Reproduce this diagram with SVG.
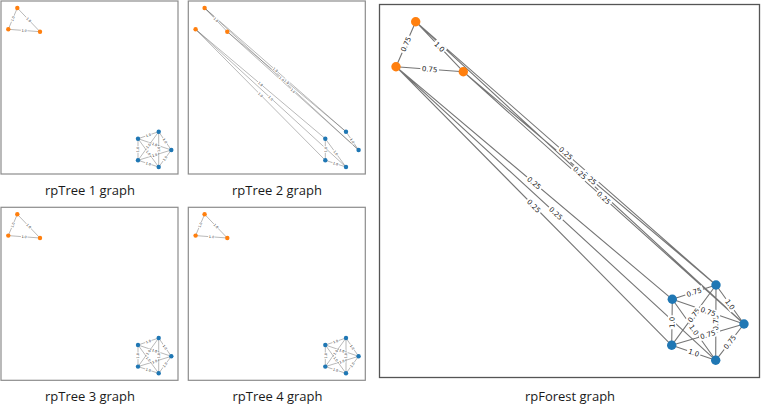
<svg xmlns="http://www.w3.org/2000/svg" width="762" height="405" viewBox="0 0 762 405">
<style>
.bg{fill:#ffffff}
.pf{fill:#ffffff;stroke:#8c8c8c;stroke-width:1.2}
.pb{fill:#ffffff;stroke:#555555;stroke-width:1.3}
.e{stroke:#3a3a3a;stroke-opacity:0.7;stroke-width:1.1;fill:none}
.se{stroke:#3a3a3a;stroke-opacity:0.65;stroke-width:0.55;fill:none}
.lb{fill:#ffffff}
.bt{font-family:"DejaVu Sans",sans-serif;font-size:7px;fill:#222;text-anchor:middle}
.st{font-family:"DejaVu Sans",sans-serif;font-size:3.3px;fill:#222;text-anchor:middle}
.o{fill:#ff7f0e}
.b{fill:#1f77b4}
.cap{font-family:"Open Sans","Liberation Sans",sans-serif;font-size:13px;fill:#1a1a1a;text-anchor:middle}
</style>
<rect class="bg" x="0" y="0" width="762" height="405"/>

<!-- ===== small panel template content, repeated ===== -->
<g id="panel1">
  <rect class="pf" x="1" y="1" width="177" height="173"/>
  <g id="p1-edges">
    <path class="se" d="M17.3 8L8.3 29.3M8.3 29.3L40 31.7M17.3 8L40 31.7M158.7 131.7L138 138.7M158.7 131.7L171.3 150M158.7 131.7L138 160.3M158.7 131.7L158.7 167M138 138.7L171.3 150M138 138.7L138 160.3M138 138.7L158.7 167M171.3 150L138 160.3M171.3 150L158.7 167M138 160.3L158.7 167"/>
    <g transform="translate(12.8 18.65) rotate(-67)"><rect class="lb" x="-3.3" y="-2" width="6.6" height="4"/><text class="st" y="1.2">1.0</text></g>
    <g transform="translate(24.15 30.5) rotate(4.3)"><rect class="lb" x="-3.3" y="-2" width="6.6" height="4"/><text class="st" y="1.2">1.0</text></g>
    <g transform="translate(28.65 19.85) rotate(46.2)"><rect class="lb" x="-3.3" y="-2" width="6.6" height="4"/><text class="st" y="1.2">1.0</text></g>
    <g transform="translate(148.35 135.2) rotate(-18.7)"><rect class="lb" x="-3.3" y="-2" width="6.6" height="4"/><text class="st" y="1.2">1.0</text></g>
    <g transform="translate(165 140.85) rotate(55.4)"><rect class="lb" x="-3.3" y="-2" width="6.6" height="4"/><text class="st" y="1.2">1.0</text></g>
    <g transform="translate(148.35 146) rotate(-54.1)"><rect class="lb" x="-3.3" y="-2" width="6.6" height="4"/><text class="st" y="1.2">1.0</text></g>
    <g transform="translate(158.7 149.35) rotate(-90)"><rect class="lb" x="-3.3" y="-2" width="6.6" height="4"/><text class="st" y="1.2">1.0</text></g>
    <g transform="translate(154.65 144.35) rotate(18.7)"><rect class="lb" x="-3.3" y="-2" width="6.6" height="4"/><text class="st" y="1.2">1.0</text></g>
    <g transform="translate(138 149.5) rotate(-90)"><rect class="lb" x="-3.3" y="-2" width="6.6" height="4"/><text class="st" y="1.2">1.0</text></g>
    <g transform="translate(148.35 152.85) rotate(53.8)"><rect class="lb" x="-3.3" y="-2" width="6.6" height="4"/><text class="st" y="1.2">1.0</text></g>
    <g transform="translate(154.65 155.15) rotate(-17.2)"><rect class="lb" x="-3.3" y="-2" width="6.6" height="4"/><text class="st" y="1.2">1.0</text></g>
    <g transform="translate(165 158.5) rotate(-53.5)"><rect class="lb" x="-3.3" y="-2" width="6.6" height="4"/><text class="st" y="1.2">1.0</text></g>
    <g transform="translate(148.35 163.65) rotate(17.9)"><rect class="lb" x="-3.3" y="-2" width="6.6" height="4"/><text class="st" y="1.2">1.0</text></g>
  </g>
  <g id="p1-a"><circle class="o" cx="17.3" cy="8" r="2.2"/></g>
  <g id="p1-b"><circle class="o" cx="8.3" cy="29.3" r="2.2"/></g>
  <g id="p1-c"><circle class="o" cx="40" cy="31.7" r="2.2"/></g>
  <g id="p1-d"><circle class="b" cx="158.7" cy="131.7" r="2.2"/></g>
  <g id="p1-e"><circle class="b" cx="138" cy="138.7" r="2.2"/></g>
  <g id="p1-f"><circle class="b" cx="171.3" cy="150" r="2.2"/></g>
  <g id="p1-g"><circle class="b" cx="138" cy="160.3" r="2.2"/></g>
  <g id="p1-h"><circle class="b" cx="158.7" cy="167" r="2.2"/></g>
</g>
<text class="cap" x="90" y="195">rpTree 1 graph</text>

<g id="panel2" transform="translate(187.3 0)">
  <rect class="pf" x="1" y="1" width="177" height="173"/>
  <g id="p2-edges">
    <path class="se" d="M17.3 8L40 31.7M17.3 8L158.7 131.7M17.3 8L171.3 150M40 31.7L158.7 131.7M40 31.7L171.3 150M158.7 131.7L171.3 150M8.3 29.3L138 138.7M8.3 29.3L138 160.3M8.3 29.3L158.7 167M138 138.7L138 160.3M138 138.7L158.7 167M138 160.3L158.7 167"/>
    <g transform="translate(28.65 19.85) rotate(46.2)"><rect class="lb" x="-3.3" y="-2" width="6.6" height="4"/><text class="st" y="1.2">1.0</text></g>
    <g transform="translate(99.35 81.7) rotate(40.1)"><rect class="lb" x="-3.3" y="-2" width="6.6" height="4"/><text class="st" y="1.2">1.0</text></g>
    <g transform="translate(88 69.85) rotate(41.2)"><rect class="lb" x="-3.3" y="-2" width="6.6" height="4"/><text class="st" y="1.2">1.0</text></g>
    <g transform="translate(94.3 79) rotate(42.7)"><rect class="lb" x="-3.3" y="-2" width="6.6" height="4"/><text class="st" y="1.2">1.0</text></g>
    <g transform="translate(105.65 90.85) rotate(42)"><rect class="lb" x="-3.3" y="-2" width="6.6" height="4"/><text class="st" y="1.2">1.0</text></g>
    <g transform="translate(165 140.85) rotate(55.4)"><rect class="lb" x="-3.3" y="-2" width="6.6" height="4"/><text class="st" y="1.2">1.0</text></g>
    <g transform="translate(73.15 84) rotate(40.1)"><rect class="lb" x="-3.3" y="-2" width="6.6" height="4"/><text class="st" y="1.2">1.0</text></g>
    <g transform="translate(73.15 94.8) rotate(45.3)"><rect class="lb" x="-3.3" y="-2" width="6.6" height="4"/><text class="st" y="1.2">1.0</text></g>
    <g transform="translate(83.5 98.15) rotate(42.5)"><rect class="lb" x="-3.3" y="-2" width="6.6" height="4"/><text class="st" y="1.2">1.0</text></g>
    <g transform="translate(138 149.5) rotate(-90)"><rect class="lb" x="-3.3" y="-2" width="6.6" height="4"/><text class="st" y="1.2">1.0</text></g>
    <g transform="translate(148.35 152.85) rotate(53.8)"><rect class="lb" x="-3.3" y="-2" width="6.6" height="4"/><text class="st" y="1.2">1.0</text></g>
    <g transform="translate(148.35 163.65) rotate(17.9)"><rect class="lb" x="-3.3" y="-2" width="6.6" height="4"/><text class="st" y="1.2">1.0</text></g>
  </g>
  <g id="p2-a"><circle class="o" cx="17.3" cy="8" r="2.2"/></g>
  <g id="p2-b"><circle class="o" cx="8.3" cy="29.3" r="2.2"/></g>
  <g id="p2-c"><circle class="o" cx="40" cy="31.7" r="2.2"/></g>
  <g id="p2-d"><circle class="b" cx="158.7" cy="131.7" r="2.2"/></g>
  <g id="p2-e"><circle class="b" cx="138" cy="138.7" r="2.2"/></g>
  <g id="p2-f"><circle class="b" cx="171.3" cy="150" r="2.2"/></g>
  <g id="p2-g"><circle class="b" cx="138" cy="160.3" r="2.2"/></g>
  <g id="p2-h"><circle class="b" cx="158.7" cy="167" r="2.2"/></g>
</g>
<text class="cap" x="277" y="195">rpTree 2 graph</text>

<g id="panel3" transform="translate(0 206.3)">
  <rect class="pf" x="1" y="1" width="177" height="173"/>
  <g id="p3-edges">
    <path class="se" d="M17.3 8L8.3 29.3M8.3 29.3L40 31.7M17.3 8L40 31.7M158.7 131.7L138 138.7M158.7 131.7L171.3 150M158.7 131.7L138 160.3M158.7 131.7L158.7 167M138 138.7L171.3 150M138 138.7L138 160.3M138 138.7L158.7 167M171.3 150L138 160.3M171.3 150L158.7 167M138 160.3L158.7 167"/>
    <g transform="translate(12.8 18.65) rotate(-67)"><rect class="lb" x="-3.3" y="-2" width="6.6" height="4"/><text class="st" y="1.2">1.0</text></g>
    <g transform="translate(24.15 30.5) rotate(4.3)"><rect class="lb" x="-3.3" y="-2" width="6.6" height="4"/><text class="st" y="1.2">1.0</text></g>
    <g transform="translate(28.65 19.85) rotate(46.2)"><rect class="lb" x="-3.3" y="-2" width="6.6" height="4"/><text class="st" y="1.2">1.0</text></g>
    <g transform="translate(148.35 135.2) rotate(-18.7)"><rect class="lb" x="-3.3" y="-2" width="6.6" height="4"/><text class="st" y="1.2">1.0</text></g>
    <g transform="translate(165 140.85) rotate(55.4)"><rect class="lb" x="-3.3" y="-2" width="6.6" height="4"/><text class="st" y="1.2">1.0</text></g>
    <g transform="translate(148.35 146) rotate(-54.1)"><rect class="lb" x="-3.3" y="-2" width="6.6" height="4"/><text class="st" y="1.2">1.0</text></g>
    <g transform="translate(158.7 149.35) rotate(-90)"><rect class="lb" x="-3.3" y="-2" width="6.6" height="4"/><text class="st" y="1.2">1.0</text></g>
    <g transform="translate(154.65 144.35) rotate(18.7)"><rect class="lb" x="-3.3" y="-2" width="6.6" height="4"/><text class="st" y="1.2">1.0</text></g>
    <g transform="translate(138 149.5) rotate(-90)"><rect class="lb" x="-3.3" y="-2" width="6.6" height="4"/><text class="st" y="1.2">1.0</text></g>
    <g transform="translate(148.35 152.85) rotate(53.8)"><rect class="lb" x="-3.3" y="-2" width="6.6" height="4"/><text class="st" y="1.2">1.0</text></g>
    <g transform="translate(154.65 155.15) rotate(-17.2)"><rect class="lb" x="-3.3" y="-2" width="6.6" height="4"/><text class="st" y="1.2">1.0</text></g>
    <g transform="translate(165 158.5) rotate(-53.5)"><rect class="lb" x="-3.3" y="-2" width="6.6" height="4"/><text class="st" y="1.2">1.0</text></g>
    <g transform="translate(148.35 163.65) rotate(17.9)"><rect class="lb" x="-3.3" y="-2" width="6.6" height="4"/><text class="st" y="1.2">1.0</text></g>
  </g>
  <g id="p3-a"><circle class="o" cx="17.3" cy="8" r="2.2"/></g>
  <g id="p3-b"><circle class="o" cx="8.3" cy="29.3" r="2.2"/></g>
  <g id="p3-c"><circle class="o" cx="40" cy="31.7" r="2.2"/></g>
  <g id="p3-d"><circle class="b" cx="158.7" cy="131.7" r="2.2"/></g>
  <g id="p3-e"><circle class="b" cx="138" cy="138.7" r="2.2"/></g>
  <g id="p3-f"><circle class="b" cx="171.3" cy="150" r="2.2"/></g>
  <g id="p3-g"><circle class="b" cx="138" cy="160.3" r="2.2"/></g>
  <g id="p3-h"><circle class="b" cx="158.7" cy="167" r="2.2"/></g>
</g>
<text class="cap" x="90" y="400.5">rpTree 3 graph</text>

<g id="panel4" transform="translate(187.3 206.3)">
  <rect class="pf" x="1" y="1" width="177" height="173"/>
  <g id="p4-edges">
    <path class="se" d="M17.3 8L8.3 29.3M8.3 29.3L40 31.7M17.3 8L40 31.7M158.7 131.7L138 138.7M158.7 131.7L171.3 150M158.7 131.7L138 160.3M158.7 131.7L158.7 167M138 138.7L171.3 150M138 138.7L138 160.3M138 138.7L158.7 167M171.3 150L138 160.3M171.3 150L158.7 167M138 160.3L158.7 167"/>
    <g transform="translate(12.8 18.65) rotate(-67)"><rect class="lb" x="-3.3" y="-2" width="6.6" height="4"/><text class="st" y="1.2">1.0</text></g>
    <g transform="translate(24.15 30.5) rotate(4.3)"><rect class="lb" x="-3.3" y="-2" width="6.6" height="4"/><text class="st" y="1.2">1.0</text></g>
    <g transform="translate(28.65 19.85) rotate(46.2)"><rect class="lb" x="-3.3" y="-2" width="6.6" height="4"/><text class="st" y="1.2">1.0</text></g>
    <g transform="translate(148.35 135.2) rotate(-18.7)"><rect class="lb" x="-3.3" y="-2" width="6.6" height="4"/><text class="st" y="1.2">1.0</text></g>
    <g transform="translate(165 140.85) rotate(55.4)"><rect class="lb" x="-3.3" y="-2" width="6.6" height="4"/><text class="st" y="1.2">1.0</text></g>
    <g transform="translate(148.35 146) rotate(-54.1)"><rect class="lb" x="-3.3" y="-2" width="6.6" height="4"/><text class="st" y="1.2">1.0</text></g>
    <g transform="translate(158.7 149.35) rotate(-90)"><rect class="lb" x="-3.3" y="-2" width="6.6" height="4"/><text class="st" y="1.2">1.0</text></g>
    <g transform="translate(154.65 144.35) rotate(18.7)"><rect class="lb" x="-3.3" y="-2" width="6.6" height="4"/><text class="st" y="1.2">1.0</text></g>
    <g transform="translate(138 149.5) rotate(-90)"><rect class="lb" x="-3.3" y="-2" width="6.6" height="4"/><text class="st" y="1.2">1.0</text></g>
    <g transform="translate(148.35 152.85) rotate(53.8)"><rect class="lb" x="-3.3" y="-2" width="6.6" height="4"/><text class="st" y="1.2">1.0</text></g>
    <g transform="translate(154.65 155.15) rotate(-17.2)"><rect class="lb" x="-3.3" y="-2" width="6.6" height="4"/><text class="st" y="1.2">1.0</text></g>
    <g transform="translate(165 158.5) rotate(-53.5)"><rect class="lb" x="-3.3" y="-2" width="6.6" height="4"/><text class="st" y="1.2">1.0</text></g>
    <g transform="translate(148.35 163.65) rotate(17.9)"><rect class="lb" x="-3.3" y="-2" width="6.6" height="4"/><text class="st" y="1.2">1.0</text></g>
  </g>
  <g id="p4-a"><circle class="o" cx="17.3" cy="8" r="2.2"/></g>
  <g id="p4-b"><circle class="o" cx="8.3" cy="29.3" r="2.2"/></g>
  <g id="p4-c"><circle class="o" cx="40" cy="31.7" r="2.2"/></g>
  <g id="p4-d"><circle class="b" cx="158.7" cy="131.7" r="2.2"/></g>
  <g id="p4-e"><circle class="b" cx="138" cy="138.7" r="2.2"/></g>
  <g id="p4-f"><circle class="b" cx="171.3" cy="150" r="2.2"/></g>
  <g id="p4-g"><circle class="b" cx="138" cy="160.3" r="2.2"/></g>
  <g id="p4-h"><circle class="b" cx="158.7" cy="167" r="2.2"/></g>
</g>
<text class="cap" x="277.5" y="400.5">rpTree 4 graph</text>

<!-- ===== rpForest big panel ===== -->
<g id="forest">
  <rect class="pb" x="379.5" y="4.5" width="380" height="373"/>
  <g id="forest-edges">
    <path class="e" d="M415.7 21.7L396 66.7M396 66.7L463.3 71.7M415.7 21.7L463.3 71.7M415.7 21.7L716 285M415.7 21.7L744 324M463.3 71.7L716 285M463.3 71.7L744 324M396 66.7L672.3 299.3M396 66.7L671.7 345.3M396 66.7L715.7 360.3M716 285L672.3 299.3M716 285L744 324M716 285L671.7 345.3M716 285L715.7 360.3M672.3 299.3L744 324M672.3 299.3L671.7 345.3M672.3 299.3L715.7 360.3M744 324L671.7 345.3M744 324L715.7 360.3M671.7 345.3L715.7 360.3"/>
    <g transform="translate(405.85 44.2) rotate(-66.4)"><rect class="lb" x="-9.3" y="-4.2" width="18.6" height="8.4"/><text class="bt" y="2.5">0.75</text></g>
    <g transform="translate(429.65 69.2) rotate(4.25)"><rect class="lb" x="-9.3" y="-4.2" width="18.6" height="8.4"/><text class="bt" y="2.5">0.75</text></g>
    <g transform="translate(439.5 46.7) rotate(46.4)"><rect class="lb" x="-7" y="-4.2" width="14" height="8.4"/><text class="bt" y="2.5">1.0</text></g>
    <g transform="translate(565.85 153.35) rotate(41.24)"><rect class="lb" x="-9.3" y="-4.2" width="18.6" height="8.4"/><text class="bt" y="2.5">0.25</text></g>
    <g transform="translate(589.65 178.35) rotate(40.17)"><rect class="lb" x="-9.3" y="-4.2" width="18.6" height="8.4"/><text class="bt" y="2.5">0.25</text></g>
    <g transform="translate(579.85 172.85) rotate(42.64)"><rect class="lb" x="-9.3" y="-4.2" width="18.6" height="8.4"/><text class="bt" y="2.5">0.25</text></g>
    <g transform="translate(603.65 197.85) rotate(41.95)"><rect class="lb" x="-9.3" y="-4.2" width="18.6" height="8.4"/><text class="bt" y="2.5">0.25</text></g>
    <g transform="translate(534.15 183) rotate(40.09)"><rect class="lb" x="-9.3" y="-4.2" width="18.6" height="8.4"/><text class="bt" y="2.5">0.25</text></g>
    <g transform="translate(533.85 206) rotate(45.3)"><rect class="lb" x="-9.3" y="-4.2" width="18.6" height="8.4"/><text class="bt" y="2.5">0.25</text></g>
    <g transform="translate(555.85 213.5) rotate(42.56)"><rect class="lb" x="-9.3" y="-4.2" width="18.6" height="8.4"/><text class="bt" y="2.5">0.25</text></g>
    <g transform="translate(694.15 292.15) rotate(-18.12)"><rect class="lb" x="-9.3" y="-4.2" width="18.6" height="8.4"/><text class="bt" y="2.5">0.75</text></g>
    <g transform="translate(730 304.5) rotate(54.32)"><rect class="lb" x="-7" y="-4.2" width="14" height="8.4"/><text class="bt" y="2.5">1.0</text></g>
    <g transform="translate(693.85 315.15) rotate(-53.7)"><rect class="lb" x="-9.3" y="-4.2" width="18.6" height="8.4"/><text class="bt" y="2.5">0.75</text></g>
    <g transform="translate(715.85 322.65) rotate(-89.8)"><rect class="lb" x="-9.3" y="-4.2" width="18.6" height="8.4"/><text class="bt" y="2.5">0.75</text></g>
    <g transform="translate(707.85 334.65) rotate(-16.4)"><rect class="lb" x="-9.3" y="-4.2" width="18.6" height="8.4"/><text class="bt" y="2.5">0.75</text></g>
    <g transform="translate(694 329.8) rotate(54.57)"><rect class="lb" x="-7" y="-4.2" width="14" height="8.4"/><text class="bt" y="2.5">1.0</text></g>
    <g transform="translate(708.15 311.65) rotate(19)"><rect class="lb" x="-9.3" y="-4.2" width="18.6" height="8.4"/><text class="bt" y="2.5">0.75</text></g>
    <g transform="translate(672 322.3) rotate(-89.25)"><rect class="lb" x="-7" y="-4.2" width="14" height="8.4"/><text class="bt" y="2.5">1.0</text></g>
    <g transform="translate(729.85 342.15) rotate(-52.05)"><rect class="lb" x="-9.3" y="-4.2" width="18.6" height="8.4"/><text class="bt" y="2.5">0.75</text></g>
    <g transform="translate(693.7 352.8) rotate(18.82)"><rect class="lb" x="-7" y="-4.2" width="14" height="8.4"/><text class="bt" y="2.5">1.0</text></g>
  </g>
  <g id="f-a"><circle class="o" cx="415.7" cy="21.7" r="4.7"/></g>
  <g id="f-b"><circle class="o" cx="396" cy="66.7" r="4.7"/></g>
  <g id="f-c"><circle class="o" cx="463.3" cy="71.7" r="4.7"/></g>
  <g id="f-d"><circle class="b" cx="716" cy="285" r="4.7"/></g>
  <g id="f-e"><circle class="b" cx="672.3" cy="299.3" r="4.7"/></g>
  <g id="f-f"><circle class="b" cx="744" cy="324" r="4.7"/></g>
  <g id="f-g"><circle class="b" cx="671.7" cy="345.3" r="4.7"/></g>
  <g id="f-h"><circle class="b" cx="715.7" cy="360.3" r="4.7"/></g>
</g>
<text class="cap" x="570" y="400.5">rpForest graph</text>
</svg>
